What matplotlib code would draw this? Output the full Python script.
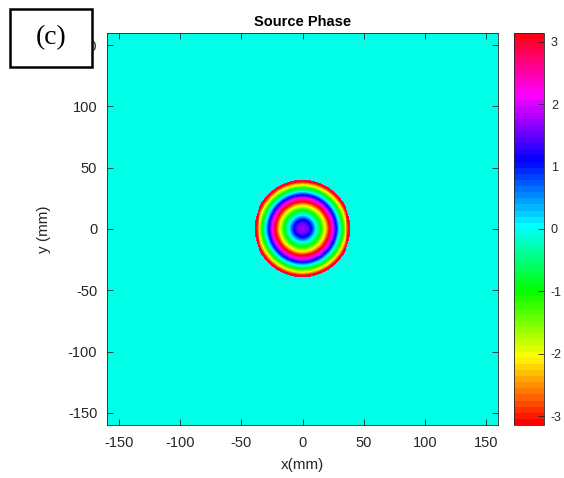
import numpy as np
import matplotlib
matplotlib.use("Agg")
import matplotlib.pyplot as plt
from matplotlib.colors import ListedColormap, hsv_to_rgb
from matplotlib.patches import Rectangle

# ---- data ----
title = "Source Phase"
panel_label = "(c)"
xlabel = "x(mm)"
ylabel = "y (mm)"
extent_mm = 160.0                 # field half-width
aperture_radius_mm = 39.5         # radius of the phase disc
background_phase = -0.01          # phase outside the disc (falls in bin just below 0)
# radial profile of the unwrapped phase (rad)
profile_r_mm = [0.0, 4.0, 8.0, 11.4, 17.0, 22.0, 26.5, 30.1, 34.5, 38.0, 39.5]
profile_phase = [1.75, 1.6, 1.0, 0.0, -1.5, -np.pi, -4.8, -2 * np.pi, -7.9, -3 * np.pi, -9.8]
xticks = [-150, -100, -50, 0, 50, 100, 150]
yticks = [-150, -100, -50, 0, 50, 100, 150]
cbar_ticks = [-3, -2, -1, 0, 1, 2, 3]

# ---- build field ----
n = 400
coords = np.linspace(-extent_mm, extent_mm, n)
X, Y = np.meshgrid(coords, coords)
R = np.hypot(X, Y)
phase_unwrapped = np.interp(R, profile_r_mm, profile_phase)
wrapped = np.angle(np.exp(1j * phase_unwrapped))
field = np.where(R <= aperture_radius_mm, wrapped, background_phase)

# MATLAB-like hsv(64)
m = 64
hues = np.arange(m) / m
cols = hsv_to_rgb(np.stack([hues, np.ones(m), np.ones(m)], axis=1))
cmap = ListedColormap(cols)

plt.rcParams['font.family'] = ['Liberation Sans', 'DejaVu Sans']
plt.rcParams['axes.unicode_minus'] = False
tc = '#262626'

fig = plt.figure(figsize=(5.64, 4.78), dpi=100)
W, H = 564, 478
ax = fig.add_axes([107 / W, 1 - 425 / H, 391 / W, 392 / H])
im = ax.imshow(field, cmap=cmap, vmin=-np.pi, vmax=np.pi, origin='lower',
               extent=[-extent_mm, extent_mm, -extent_mm, extent_mm],
               interpolation='nearest', aspect='auto')
ax.set_xticks(xticks)
ax.set_yticks(yticks)
ax.tick_params(direction='in', length=4, width=0.6, colors=tc, labelsize=10.5,
               top=True, right=True, labelcolor=tc)
ax.tick_params(axis='x', pad=8)
ax.tick_params(axis='y', pad=7)
for s in ax.spines.values():
    s.set_color(tc)
    s.set_linewidth(0.6)
ax.set_title(title, fontsize=10.5, fontweight='bold', color='black', pad=5)
ax.set_xlabel(xlabel, fontsize=11, color=tc, labelpad=6)
ax.set_ylabel(ylabel, fontsize=11, color=tc, labelpad=12)

cax = fig.add_axes([514 / W, 1 - 425 / H, 30 / W, 392 / H])
cb = fig.colorbar(im, cax=cax, ticks=cbar_ticks)
cb.outline.set_edgecolor(tc)
cb.outline.set_linewidth(0.6)
cax.tick_params(direction='in', length=4, width=0.6, colors=tc, labelsize=9,
                labelcolor=tc, pad=5)

# panel label box
fig.patches.append(Rectangle((10 / W, 1 - 67 / H), 82 / W, 58 / H,
                             transform=fig.transFigure, facecolor='white',
                             edgecolor='black', linewidth=1.8, zorder=10))
fig.text(51 / W, 1 - 38 / H, panel_label, fontsize=20, family='Liberation Serif',
         ha='center', va='center', zorder=11)

fig.savefig('out.png', dpi=100)
